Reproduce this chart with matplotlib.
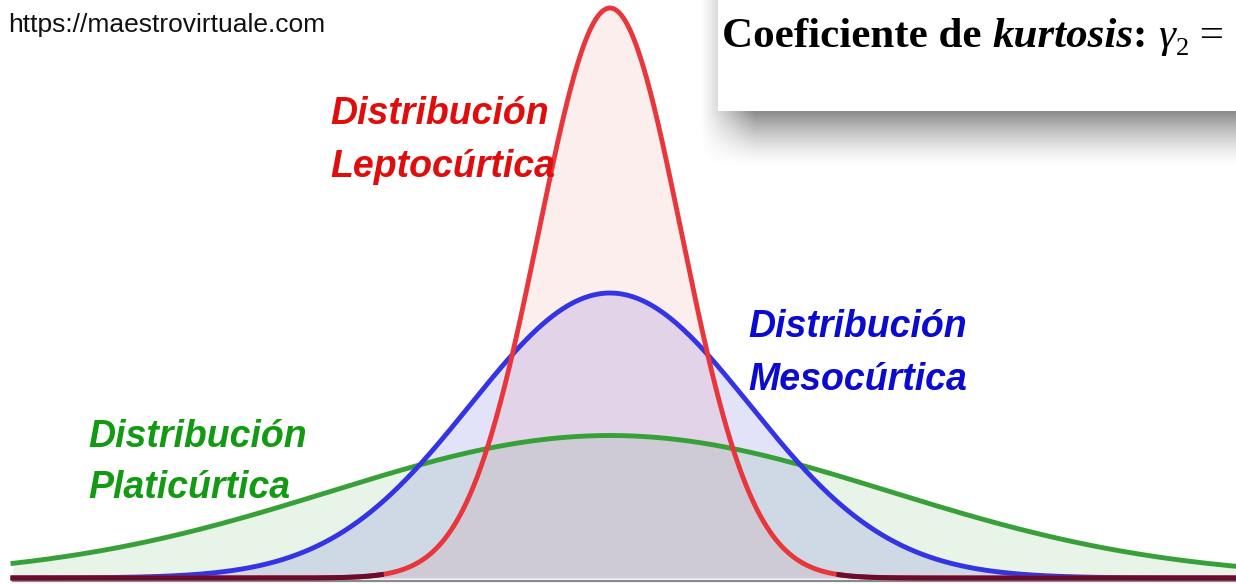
import matplotlib
matplotlib.use("Agg")
import matplotlib.pyplot as plt
import numpy as np

# curve parameters (meso spread = 1, meso peak = 1)
kinds = ["Leptocúrtica", "Mesocúrtica", "Platicúrtica"]
peaks = [2.0, 1.0, 0.5]
spreads = [0.51, 1.0, 2.0]
line_colors = ["#e8373c", "#3434e4", "#38a038"]
fill_colors = ["#e62020", "#2525d8", "#33a033"]
fill_alphas = [0.075, 0.13, 0.11]
label_colors = ["#e00d0d", "#0a0ad0", "#139a13"]

W, H = 1236, 584
x0_px, unit_px, base_px, yunit_px = 610.0, 140.0, 578.0, 285.0

fig = plt.figure(figsize=(W / 100, H / 100), dpi=100)
ax = fig.add_axes([0, 0, 1, 1])
ax.set_xlim(-x0_px / unit_px, (W - x0_px) / unit_px)
ax.set_ylim(-(H - base_px) / yunit_px, base_px / yunit_px)
ax.axis("off")

x = np.linspace((13 - x0_px) / unit_px, (W - x0_px) / unit_px, 2000)
curves = [p * np.exp(-0.5 * (x / s) ** 2) for p, s in zip(peaks, spreads)]

ax.plot(x, np.full_like(x, -3 / yunit_px), color="#8a8a8a", lw=1.6, zorder=1)

for idx in [2, 1, 0]:
    ax.fill_between(x, 0, curves[idx], color=fill_colors[idx], alpha=fill_alphas[idx],
                    lw=0, zorder=2)

ax.plot(x, curves[2], color=line_colors[2], lw=3.5, zorder=3.0)
ax.plot(x, curves[1], color=line_colors[1], lw=3.5, zorder=3.1)
ax.plot(x, curves[0], color=line_colors[0], lw=3.5, zorder=3.2)
# red line lying on the dark base line looks maroon
flat = np.where(curves[0] < 0.012, curves[0], np.nan)
ax.plot(x, flat, color="#6a0c2c", lw=3.6, zorder=3.3)

# overlay in pixel coordinates for the decorations
ov = fig.add_axes([0, 0, 1, 1])
ov.set_xlim(0, W)
ov.set_ylim(H, 0)
ov.axis("off")
ov.patch.set_alpha(0)

gx, gy = np.meshgrid(np.arange(W), np.arange(H))
fx = np.clip((gx - 700) / 55.0, 0, 1)
fy = np.clip((168 - gy) / 56.0, 0, 1) ** 1.5
shadow = np.zeros((H, W, 4))
shadow[..., 3] = 0.45 * fx * fy
ov.imshow(shadow, extent=(0, W, H, 0), zorder=5, interpolation="bilinear", aspect="auto")
ov.add_patch(plt.Rectangle((718, -5), W, 116, facecolor="white", edgecolor="none", zorder=6))

ov.text(8, 32, "https://maestrovirtuale.com", fontsize=19, family="Liberation Sans",
        color="#111111", va="baseline", ha="left", zorder=7)

label_pos = [(330, 124, 177), (748, 337, 390), (88, 447, 498)]
for idx, (lx, y1, y2) in enumerate(label_pos):
    for yy, txt in [(y1, "Distribución"), (y2, kinds[idx])]:
        ov.text(lx, yy, txt, fontsize=27, family="Liberation Sans", weight="bold",
                style="italic", color=label_colors[idx], va="baseline", ha="left", zorder=7)

# title pieces laid out one after the other
fig.canvas.draw()
renderer = fig.canvas.get_renderer()
pieces = [
    ("Coeficiente de ", "bold", "normal", 31, 0),
    ("kurtosis", "bold", "italic", 31, 0),
    (": ", "bold", "normal", 31, 0),
    ("γ", "normal", "italic", 31, 0),
    ("2", "normal", "normal", 19, 8),
    (" =", "normal", "normal", 31, 0),
]
cx = 722.0
for txt, wgt, sty, fs, dy in pieces:
    t = ov.text(cx, 47 + dy, txt, fontsize=fs, family="Liberation Serif", weight=wgt,
                style=sty, color="black", va="baseline", ha="left", zorder=7)
    bb = t.get_window_extent(renderer)
    cx += bb.width

fig.savefig("out.png", dpi=100)
plt.close(fig)
